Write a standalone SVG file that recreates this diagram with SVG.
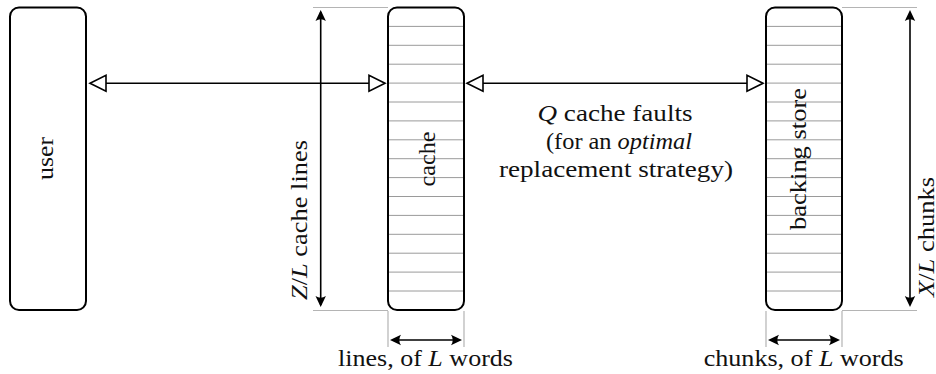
<svg xmlns="http://www.w3.org/2000/svg" width="936" height="374" viewBox="0 0 936 374">
  <style>
    .box { fill: #fff; stroke: #000; stroke-width: 2; }
    .row { stroke: #9a9a9a; stroke-width: 1; fill: none; }
    .ext { stroke: #b4b4b4; stroke-width: 1.2; fill: none; }
    .open { stroke: #000; stroke-width: 1.6; fill: none; marker-start: url(#tri); marker-end: url(#tri); }
    .dim { stroke: #000; stroke-width: 1.6; fill: none; marker-start: url(#head); marker-end: url(#head); }
    .t { font-family: 'Liberation Serif', 'Times New Roman', serif; font-size: 23px; fill: #111; }
    .c { text-anchor: middle; }
    .i { font-style: italic; }
  </style>
  <defs>
    <marker id="tri" markerUnits="userSpaceOnUse" markerWidth="20" markerHeight="20" refX="0" refY="0" orient="auto-start-reverse" overflow="visible">
      <path d="M16,0 L0,-8 L0,8 Z" fill="#fff" stroke="#000" stroke-width="1.6" stroke-linejoin="miter"/>
    </marker>
    <marker id="head" markerUnits="userSpaceOnUse" markerWidth="14" markerHeight="14" refX="0" refY="0" orient="auto-start-reverse" overflow="visible">
      <path d="M2,0 L-9,-5.2 Q-5.5,0 -9,5.2 Z" fill="#000"/>
    </marker>
  </defs>

  <!-- extension lines for the dimension arrows -->
  <g id="extensions">
    <path class="ext" d="M313,7.5 H388 M313,310.5 H388"/>
    <path class="ext" d="M388,311 V347 M464,311 V347"/>
    <path class="ext" d="M766,311 V347 M842,311 V347"/>
    <path class="ext" d="M842,7.5 H917 M842,310.5 H917"/>
  </g>

  <g id="user">
    <rect class="box" x="10" y="7.5" width="76" height="302.5" rx="9"/>
    <text class="t c" transform="translate(53,158.5) rotate(-90)" textLength="43" lengthAdjust="spacingAndGlyphs">user</text>
  </g>

  <g id="cache">
    <rect class="box" x="388" y="7.5" width="76" height="302.5" rx="9"/>
    <path class="row" d="M389,26.4 H463 M389,45.3 H463 M389,64.2 H463 M389,83.1 H463 M389,102 H463 M389,120.9 H463 M389,139.8 H463 M389,158.7 H463 M389,177.6 H463 M389,196.5 H463 M389,215.4 H463 M389,234.3 H463 M389,253.2 H463 M389,272.1 H463 M389,291 H463"/>
    <text class="t c" transform="translate(435,159) rotate(-90)" textLength="55" lengthAdjust="spacingAndGlyphs">cache</text>
  </g>

  <g id="backing-store">
    <rect class="box" x="766" y="7.5" width="76" height="302.5" rx="9"/>
    <path class="row" d="M767,26.4 H841 M767,45.3 H841 M767,64.2 H841 M767,83.1 H841 M767,102 H841 M767,120.9 H841 M767,139.8 H841 M767,158.7 H841 M767,177.6 H841 M767,196.5 H841 M767,215.4 H841 M767,234.3 H841 M767,253.2 H841 M767,272.1 H841 M767,291 H841"/>
    <text class="t c" transform="translate(806,159) rotate(-90)" textLength="142" lengthAdjust="spacingAndGlyphs">backing store</text>
  </g>

  <g id="connectors">
    <path class="open" d="M106,83.3 H369"/>
    <path class="open" d="M483,83.3 H747"/>
    <path class="dim" d="M320.7,12 V305"/>
    <path class="dim" d="M910,12 V305"/>
    <path class="dim" d="M392,340 H460"/>
    <path class="dim" d="M770,340 H838"/>
  </g>

  <g id="labels">
    <text class="t c" x="615" y="120.7" textLength="155" lengthAdjust="spacingAndGlyphs"><tspan class="i">Q</tspan> cache faults</text>
    <text class="t c" x="619" y="149" textLength="146" lengthAdjust="spacingAndGlyphs">(for an <tspan class="i">optimal</tspan></text>
    <text class="t c" x="616" y="177" textLength="234" lengthAdjust="spacingAndGlyphs">replacement strategy)</text>
    <text class="t" transform="translate(306.5,300) rotate(-90)" textLength="160" lengthAdjust="spacingAndGlyphs"><tspan class="i">Z</tspan>/<tspan class="i">L</tspan> cache lines</text>
    <text class="t" transform="translate(934,297) rotate(-90)" textLength="120" lengthAdjust="spacingAndGlyphs"><tspan class="i">X</tspan>/<tspan class="i">L</tspan> chunks</text>
    <text class="t c" x="425.5" y="365.5" textLength="175" lengthAdjust="spacingAndGlyphs">lines, of <tspan class="i">L</tspan> words</text>
    <text class="t c" x="803.7" y="365.5" textLength="200" lengthAdjust="spacingAndGlyphs">chunks, of <tspan class="i">L</tspan> words</text>
  </g>
</svg>
